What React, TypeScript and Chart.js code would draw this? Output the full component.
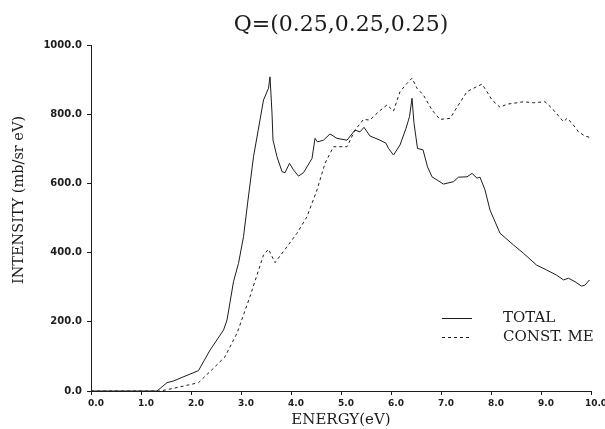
import React, { useEffect, useRef } from "react";
import { Chart, registerables } from "chart.js";

Chart.register(...registerables);

const titleText = "Q=(0.25,0.25,0.25)";
const xTitle = "ENERGY(eV)";
const yTitle = "INTENSITY (mb/sr eV)";

const xTickValues = [0, 1, 2, 3, 4, 5, 6, 7, 8, 9, 10];
const yTickValues = [0, 200, 400, 600, 800, 1000];

const totalLabel = "TOTAL";
const totalEnergy = [0, 1.32, 1.52, 1.65, 2.15, 2.38, 2.65, 2.72, 2.85, 2.95, 3.05, 3.14, 3.25, 3.45, 3.55, 3.58, 3.62, 3.64, 3.72, 3.82, 3.88, 3.97, 4.05, 4.15, 4.25, 4.42, 4.48, 4.53, 4.65, 4.78, 4.92, 5.12, 5.28, 5.38, 5.46, 5.58, 5.78, 5.9, 5.95, 6.05, 6.18, 6.3, 6.37, 6.42, 6.46, 6.53, 6.64, 6.73, 6.82, 7.05, 7.25, 7.35, 7.52, 7.62, 7.72, 7.78, 7.88, 7.98, 8.18, 8.45, 8.65, 8.91, 9.11, 9.31, 9.45, 9.55, 9.68, 9.81, 9.88, 9.97];
const totalIntensity = [0, 0, 24, 29, 59, 118, 176, 205, 316, 369, 446, 552, 677, 841, 875, 908, 803, 725, 677, 634, 631, 658, 639, 621, 631, 672, 730, 720, 725, 743, 730, 725, 754, 749, 762, 737, 725, 716, 701, 682, 711, 759, 793, 846, 774, 701, 697, 648, 619, 598, 605, 618, 619, 629, 615, 618, 581, 523, 456, 422, 398, 364, 350, 335, 321, 326, 316, 303, 306, 321];

const constLabel = "CONST. ME";
const constEnergy = [0, 1.39, 1.72, 2.15, 2.45, 2.68, 2.92, 3.18, 3.45, 3.55, 3.68, 3.92, 4.12, 4.32, 4.52, 4.68, 4.85, 5.12, 5.28, 5.45, 5.58, 5.75, 5.92, 6.05, 6.18, 6.32, 6.42, 6.52, 6.65, 6.82, 6.98, 7.18, 7.35, 7.52, 7.65, 7.82, 7.92, 8.02, 8.18, 8.32, 8.52, 8.65, 8.85, 9.08, 9.22, 9.35, 9.45, 9.52, 9.62, 9.75, 9.88, 9.97];
const constIntensity = [0, 0, 10, 24, 66, 99, 167, 273, 393, 410, 371, 417, 456, 504, 581, 658, 706, 706, 754, 785, 783, 807, 827, 809, 865, 889, 904, 875, 855, 812, 785, 788, 827, 865, 875, 887, 865, 841, 820, 829, 833, 836, 833, 836, 817, 795, 778, 788, 774, 749, 737, 733];

const INK = "#1c1c1c";

const toPoints = (xs: number[], ys: number[]) => xs.map((x, i) => ({ x, y: ys[i] }));

const decorPlugin = {
  id: "decor",
  afterDraw(chart: any) {
    const { ctx, chartArea } = chart;
    ctx.save();
    // y-axis title
    ctx.fillStyle = INK;
    ctx.font = "14.5px 'DejaVu Serif'";
    ctx.textAlign = "center";
    ctx.textBaseline = "middle";
    ctx.translate(19, (chartArea.top + chartArea.bottom) / 2 - 18);
    ctx.rotate(-Math.PI / 2);
    ctx.fillText(yTitle, 0, 0);
    ctx.restore();

    // legend
    ctx.save();
    const ds = chart.data.datasets;
    const lineX0 = chartArea.right - 149;
    const lineX1 = chartArea.right - 119;
    const textX = chartArea.right - 88;
    const rows = [chartArea.bottom - 73, chartArea.bottom - 54];
    ds.forEach((d: any, i: number) => {
      const y = rows[i];
      ctx.strokeStyle = d.borderColor;
      ctx.lineWidth = d.borderWidth;
      ctx.setLineDash(d.borderDash || []);
      ctx.beginPath();
      ctx.moveTo(lineX0, y + 0.5);
      ctx.lineTo(lineX1, y + 0.5);
      ctx.stroke();
      ctx.setLineDash([]);
      ctx.fillStyle = INK;
      ctx.font = "15px 'DejaVu Serif'";
      ctx.textAlign = "left";
      ctx.textBaseline = "middle";
      ctx.fillText(d.label, textX, y);
    });
    ctx.restore();
  },
};

export default function App() {
  const ref = useRef<HTMLCanvasElement | null>(null);

  useEffect(() => {
    if (!ref.current) return;
    const chart = new Chart(ref.current, {
      type: "line",
      data: {
        datasets: [
          {
            label: totalLabel,
            data: toPoints(totalEnergy, totalIntensity),
            borderColor: INK,
            borderWidth: 1,
            pointRadius: 0,
            fill: false,
            tension: 0,
          },
          {
            label: constLabel,
            data: toPoints(constEnergy, constIntensity),
            borderColor: INK,
            borderWidth: 1,
            borderDash: [3, 3],
            pointRadius: 0,
            fill: false,
            tension: 0,
          },
        ],
      },
      options: {
        responsive: false,
        animation: false,
        layout: { padding: { left: 0, right: 14, top: 0, bottom: 0 } },
        plugins: {
          legend: { display: false },
          tooltip: { enabled: false },
          title: {
            display: true,
            text: titleText,
            fullSize: false,
            color: INK,
            font: { family: "'DejaVu Serif'", size: 22, weight: "normal" },
            padding: { top: 12, bottom: 6.6 },
          },
        },
        scales: {
          x: {
            type: "linear",
            min: 0,
            max: 10,
            afterBuildTicks: (scale: any) => {
              scale.ticks = xTickValues.map((v) => ({ value: v }));
            },
            afterFit: (scale: any) => {
              scale.height = 38;
              scale.paddingLeft = 0;
              scale.paddingRight = 0;
            },
            ticks: {
              color: INK,
              font: { family: "'DejaVu Sans'", size: 9, weight: "bold" },
              padding: 3,
              labelOffset: 5,
              maxRotation: 0,
              autoSkip: false,
              callback: (v: any) => Number(v).toFixed(1),
            },
            grid: { drawOnChartArea: false, drawTicks: true, tickLength: 4, color: INK },
            border: { display: true, color: INK, width: 1 },
            title: {
              display: true,
              text: xTitle,
              color: INK,
              font: { family: "'DejaVu Serif'", size: 15, weight: "normal" },
              padding: { top: 0, bottom: 0 },
            },
          },
          y: {
            type: "linear",
            min: 0,
            max: 1000,
            afterBuildTicks: (scale: any) => {
              scale.ticks = yTickValues.map((v) => ({ value: v }));
            },
            afterFit: (scale: any) => {
              scale.width = 91;
              scale.paddingTop = 0;
              scale.paddingBottom = 0;
            },
            ticks: {
              color: INK,
              font: { family: "'DejaVu Sans'", size: 10, weight: "bold" },
              padding: 5,
              autoSkip: false,
              callback: (v: any) => Number(v).toFixed(1),
            },
            grid: { drawOnChartArea: false, drawTicks: true, tickLength: 4, color: INK },
            border: { display: true, color: INK, width: 1 },
          },
        },
      },
      plugins: [decorPlugin],
    });
    return () => chart.destroy();
  }, []);

  return (
    <div style={{ position: "absolute", left: 0, top: 0, width: 605, height: 429, background: "#fff" }}>
      <canvas ref={ref} width={605} height={429} style={{ display: "block" }} />
    </div>
  );
}
